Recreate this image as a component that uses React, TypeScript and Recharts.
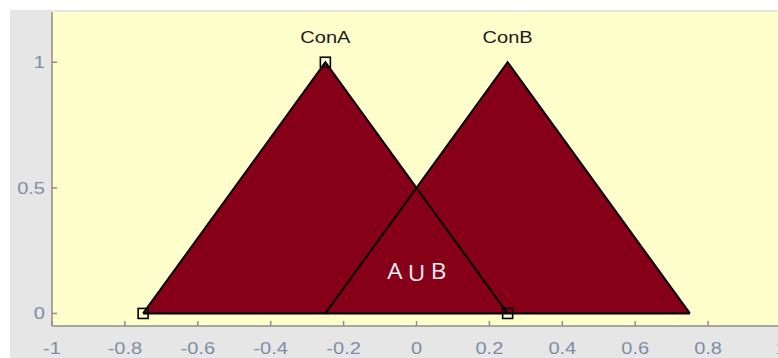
import React from "react";
import {
  ComposedChart,
  Area,
  Line,
  XAxis,
  YAxis,
  CartesianGrid,
  ReferenceDot,
  Label,
} from "recharts";

// Membership functions sampled at their break points
const xPoints = [-0.75, -0.25, 0.25, 0.75];
const conA = [0, 1, 0, null];
const conB = [null, 0, 1, 0];
const baseline = [0, 0, 0, 0];

const seriesNames = ["ConA", "ConB"];
const xTicks = [-1, -0.8, -0.6, -0.4, -0.2, 0, 0.2, 0.4, 0.6, 0.8, 1];
const yTicks = [0, 0.5, 1];
const xDomain = [-1, 1];
const yDomain = [-0.05, 1.2];

const unionParts = ["A", "U", "B"];
const unionAt = { x: 0, y: 0.17 };

const rows = xPoints.map((x, i) => ({
  x,
  conA: conA[i],
  conB: conB[i],
  base: baseline[i],
}));

const FILL = "#860018";
const PLOT_BG = "#ffffcc";
const PANEL = "#e6e6e6";
const FRAME = "#8c8c8c";
const TICK_TEXT = "#7d8da4";
const FONT = "'Liberation Sans', Arial, sans-serif";
const STRETCH = 1.25;

const fmt = (v: number) => String(Math.round(v * 10) / 10);

const BottomTick = (p: any) => (
  <g>
    <line x1={p.x} y1={p.y} x2={p.x} y2={p.y - 5} stroke={FRAME} strokeWidth={1.5} />
    <text
      transform={`translate(${p.x},${p.y + 28}) scale(${STRETCH},1)`}
      textAnchor="middle"
      fontFamily={FONT}
      fontSize={16}
      fill={TICK_TEXT}
    >
      {fmt(p.payload.value)}
    </text>
  </g>
);

const TopTick = (p: any) => (
  <line x1={p.x} y1={p.y} x2={p.x} y2={p.y + 5} stroke={FRAME} strokeWidth={1.5} />
);

const LeftTick = (p: any) => (
  <g>
    <line x1={p.x} y1={p.y} x2={p.x + 5} y2={p.y} stroke={FRAME} strokeWidth={1.5} />
    <text
      transform={`translate(${p.x - 7},${p.y + 6}) scale(${STRETCH},1)`}
      textAnchor="end"
      fontFamily={FONT}
      fontSize={16}
      fill={TICK_TEXT}
    >
      {fmt(p.payload.value)}
    </text>
  </g>
);

const RightTick = (p: any) => (
  <line x1={p.x} y1={p.y} x2={p.x - 5} y2={p.y} stroke={FRAME} strokeWidth={1.5} />
);

const SquareDot = (p: any) => {
  if (p.cx == null || p.cy == null || p.value == null) return <g key={p.key} />;
  return (
    <rect
      key={p.key}
      x={p.cx - 5}
      y={p.cy - 5}
      width={10}
      height={10}
      fill="none"
      stroke="#000"
      strokeWidth={1.6}
    />
  );
};

const peakLabel = (name: string) => (p: any) => {
  if (p.value !== 1) return <g key={p.index} />;
  return (
    <text
      key={p.index}
      transform={`translate(${p.x},${p.y - 19}) scale(${STRETCH},1)`}
      textAnchor="middle"
      fontFamily={FONT}
      fontSize={16}
      fill="#1a1a1a"
    >
      {name}
    </text>
  );
};

// Union annotation: letters spread apart, the middle one set a little lower
const unionOffsets = [
  { dx: -21.5, dy: 8.6 },
  { dx: 0, dy: 10 },
  { dx: 22, dy: 8.6 },
];

const UnionLabel = (p: any) => {
  const vb = p.viewBox || {};
  const cx = vb.x + (vb.width || 0) / 2;
  const cy = vb.y + (vb.height || 0) / 2;
  return (
    <g>
      {unionParts.map((ch, i) => (
        <text
          key={ch + i}
          transform={`translate(${cx + unionOffsets[i].dx},${cy + unionOffsets[i].dy}) scale(1.1,1)`}
          textAnchor="middle"
          fontFamily="'Open Sans', 'DejaVu Sans', sans-serif"
          fontSize={22}
          fill="#f4ecf6"
        >
          {ch}
        </text>
      ))}
    </g>
  );
};

export default function App() {
  return (
    <div
      style={{
        position: "absolute",
        left: 0,
        top: 0,
        width: 778,
        height: 358,
        overflow: "hidden",
        background: "#ffffff",
      }}
    >
      <div
        style={{
          position: "absolute",
          left: 10,
          top: 10,
          right: 0,
          bottom: 0,
          background: PANEL,
        }}
      />
      <div style={{ position: "absolute", left: 0, top: 0 }}>
        <ComposedChart
          width={790}
          height={358}
          data={rows}
          margin={{ top: 12, right: 9, bottom: 0, left: 10 }}
        >
          <CartesianGrid horizontal={false} vertical={false} fill={PLOT_BG} fillOpacity={1} />
          <XAxis
            xAxisId="b"
            dataKey="x"
            type="number"
            domain={xDomain}
            ticks={xTicks}
            interval={0}
            height={32}
            tickSize={0}
            tickMargin={0}
            tickLine={false}
            axisLine={{ stroke: FRAME, strokeWidth: 1.5 }}
            tick={BottomTick}
          />
          <XAxis
            xAxisId="t"
            dataKey="x"
            orientation="top"
            type="number"
            domain={xDomain}
            ticks={xTicks}
            interval={0}
            height={0}
            tickSize={0}
            tickMargin={0}
            tickLine={false}
            axisLine={{ stroke: FRAME, strokeWidth: 1.5 }}
            tick={TopTick}
          />
          <YAxis
            yAxisId="l"
            type="number"
            domain={yDomain}
            ticks={yTicks}
            interval={0}
            width={42}
            tickSize={0}
            tickMargin={0}
            tickLine={false}
            axisLine={{ stroke: FRAME, strokeWidth: 1.5 }}
            tick={LeftTick}
          />
          <YAxis
            yAxisId="r"
            orientation="right"
            type="number"
            domain={yDomain}
            ticks={yTicks}
            interval={0}
            width={0}
            tickSize={0}
            tickMargin={0}
            tickLine={false}
            axisLine={{ stroke: FRAME, strokeWidth: 1.5 }}
            tick={RightTick}
          />

          <Area
            xAxisId="b"
            yAxisId="l"
            type="linear"
            dataKey="conA"
            baseValue={0}
            fill={FILL}
            fillOpacity={1}
            stroke="none"
            isAnimationActive={false}
          />
          <Area
            xAxisId="b"
            yAxisId="l"
            type="linear"
            dataKey="conB"
            baseValue={0}
            fill={FILL}
            fillOpacity={1}
            stroke="none"
            isAnimationActive={false}
          />
          <Line
            xAxisId="b"
            yAxisId="l"
            type="linear"
            dataKey="base"
            stroke="#000"
            strokeWidth={2}
            dot={false}
            isAnimationActive={false}
          />
          <Line
            xAxisId="b"
            yAxisId="l"
            type="linear"
            dataKey="conB"
            stroke="#000"
            strokeWidth={2}
            dot={false}
            label={peakLabel(seriesNames[1])}
            isAnimationActive={false}
          />
          <Line
            xAxisId="b"
            yAxisId="l"
            type="linear"
            dataKey="conA"
            stroke="#000"
            strokeWidth={2}
            dot={SquareDot}
            label={peakLabel(seriesNames[0])}
            isAnimationActive={false}
          />
          <ReferenceDot
            xAxisId="b"
            yAxisId="l"
            x={unionAt.x}
            y={unionAt.y}
            r={0}
            fill="none"
            stroke="none"
          >
            <Label content={UnionLabel} />
          </ReferenceDot>
        </ComposedChart>
      </div>
    </div>
  );
}
